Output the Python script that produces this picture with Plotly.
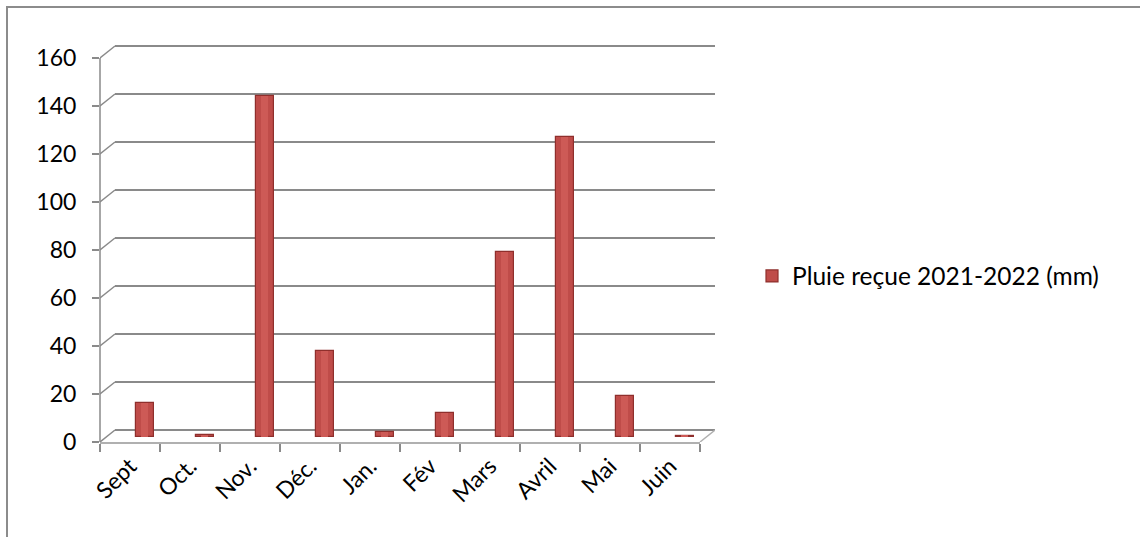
import plotly.graph_objects as go

# Monthly rainfall, season 2021-2022
months = ["Sept", "Oct.", "Nov.", "Déc.", "Jan.", "Fév", "Mars", "Avril", "Mai", "Juin"]
rain_mm = [14, 1, 142, 36, 2, 10, 77, 125, 17, 0.5]
series_name = "Pluie reçue 2021-2022 (mm)"
y_ticks = [0, 20, 40, 60, 80, 100, 120, 140, 160]

W, H = 1140, 537
L, R, T, B = 100, 715, 40, 442          # plot box in pixels
PX_PER_UNIT = 2.4                        # vertical scale
DEPTH_X, DEPTH_Y = 15, 12                # pseudo-3D depth offset (back wall vs front)
BAR_LIFT = 5                             # bars stand mid-depth on the floor

GRID = "#8a8a8a"
FAMILY = "Lato, Open Sans, sans-serif"
TICK_FONT = dict(family=FAMILY, size=23, color="#000000")
LEGEND_FONT = dict(family=FAMILY, size=24.5, color="#000000")


def paper_x(px):
    return (px - L) / (R - L)


def paper_y(py):
    return (B - py) / (B - T)


span = (B - T) / PX_PER_UNIT

fig = go.Figure()

# columns
fig.add_trace(go.Bar(
    x=months, y=rain_mm, name=series_name,
    xaxis="x", yaxis="y2", width=0.29,
    marker=dict(color="#BF4C49", line=dict(color="#8f2f2c", width=1.2)),
    showlegend=True,
))
# lighter core of each column for a rounded look
fig.add_trace(go.Bar(
    x=months, y=rain_mm, name=series_name,
    xaxis="x", yaxis="y2", width=0.13, offset=-0.075,
    marker=dict(color="#CD5A56", line=dict(width=0)),
    showlegend=False, hoverinfo="skip",
))

# carrier trace for the front category axis / value labels
fig.add_trace(go.Scatter(
    x=months, y=[0] * len(months), xaxis="x2", yaxis="y3",
    mode="markers", marker=dict(opacity=0), showlegend=False, hoverinfo="skip",
))

shapes = []
# outer chart border
shapes.append(dict(type="rect", xref="paper", yref="paper",
                   x0=paper_x(7), x1=paper_x(W + 10), y0=paper_y(H + 10), y1=paper_y(7),
                   line=dict(color="#8c8c8c", width=2), fillcolor="rgba(0,0,0,0)", layer="below"))
# front value axis line
shapes.append(dict(type="line", xref="x2 domain", yref="y3", x0=0, x1=0, y0=0, y1=y_ticks[-1],
                   line=dict(color=GRID, width=1.5)))
# side-wall connectors from the front axis up to the back wall gridlines
for v in y_ticks:
    shapes.append(dict(type="line", xref="x2", yref="y3", xsizemode="pixel", ysizemode="pixel",
                       xanchor=-0.5, yanchor=v, x0=0, x1=DEPTH_X, y0=0, y1=DEPTH_Y,
                       line=dict(color=GRID, width=1.5)))
# right edge of the floor
shapes.append(dict(type="line", xref="x", yref="y", xsizemode="pixel", ysizemode="pixel",
                   xanchor=len(months) - 0.5, yanchor=0, x0=-DEPTH_X, x1=0, y0=-DEPTH_Y, y1=0,
                   line=dict(color="#b0b0b0", width=1.5)))

fig.update_layout(
    width=W, height=H,
    margin=dict(l=L, r=W - R, t=T, b=H - B),
    paper_bgcolor="white", plot_bgcolor="rgba(0,0,0,0)",
    font=TICK_FONT,
    barmode="overlay",
    bargap=0,
    shapes=shapes,
    # back wall grid
    xaxis=dict(domain=[paper_x(L + DEPTH_X), 1], type="category", categoryarray=months,
               range=[-0.5, len(months) - 0.5], visible=False, fixedrange=True),
    yaxis=dict(anchor="x", range=[-DEPTH_Y / PX_PER_UNIT, -DEPTH_Y / PX_PER_UNIT + span],
               tickvals=y_ticks, showgrid=True, gridcolor=GRID, gridwidth=1.5,
               showticklabels=False, ticks="", zeroline=False, showline=False),
    # columns
    yaxis2=dict(anchor="x", overlaying="y",
                range=[-BAR_LIFT / PX_PER_UNIT, -BAR_LIFT / PX_PER_UNIT + span], visible=False),
    # front axes
    xaxis2=dict(domain=[0, paper_x(R - DEPTH_X)], anchor="y3", type="category", categoryarray=months,
                range=[-0.5, len(months) - 0.5], tickson="boundaries", ticks="outside", ticklen=8,
                tickcolor=GRID, tickwidth=1.5, showline=True, linecolor="#b0b0b0", linewidth=1.5,
                showgrid=False, tickangle=-45, tickfont=TICK_FONT),
    yaxis3=dict(anchor="x2", domain=[0, 1], range=[0, span], tickvals=y_ticks,
                ticks="outside", ticklen=7, tickcolor=GRID, tickwidth=1.5,
                showgrid=False, zeroline=False, showline=False, ticklabelstandoff=11,
                tickfont=TICK_FONT),
    legend=dict(x=paper_x(752), y=paper_y(276), xanchor="left", yanchor="middle",
                font=LEGEND_FONT, bgcolor="rgba(0,0,0,0)", itemwidth=30),
)

fig.write_html("out.html")
